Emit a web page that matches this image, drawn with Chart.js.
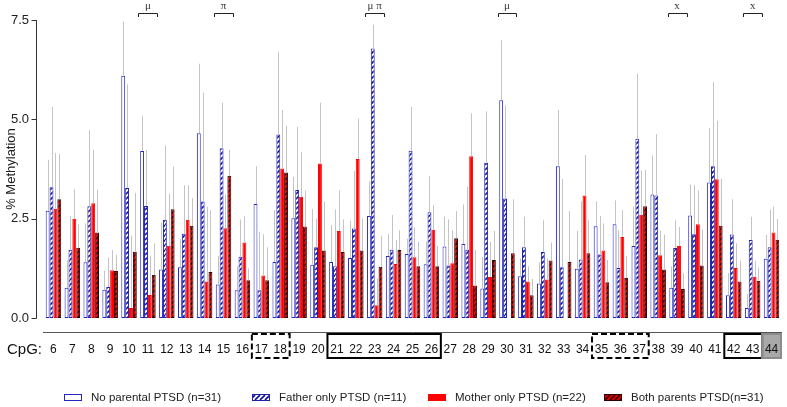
<!DOCTYPE html>
<html>
<head>
<meta charset="utf-8">
<script src="https://cdn.jsdelivr.net/npm/chart.js@4.4.1/dist/chart.umd.min.js"></script>
<style>
  html, body { margin: 0; padding: 0; background: #fff; }
  canvas { display: block; }
</style>
</head>
<body>
<canvas id="chart" width="787" height="407"></canvas>
<script>
// ---- data ----
const cpg = ['6','7','8','9','10','11','12','13','14','15','16','17','18','19','20','21','22','23','24','25',
             '26','27','28','29','30','31','32','33','34','35','36','37','38','39','40','41','42','43','44'];

const noParental  = [2.70,0.76,1.40,0.71,6.10,4.20,1.22,1.28,4.65,0.84,0.70,2.87,1.41,2.51,1.34,1.41,1.51,2.57,1.56,1.61,
                     1.35,1.80,1.86,0.74,5.48,1.05,0.87,3.82,1.24,2.31,2.36,1.81,3.11,0.76,2.58,3.41,0.57,0.25,1.49];
const fatherOnly  = [3.29,1.72,2.81,0.78,3.27,2.82,2.47,2.12,2.93,4.27,1.54,0.70,4.62,3.22,1.78,1.30,2.25,6.78,1.72,4.21,
                     2.66,1.32,1.72,3.91,3.01,1.78,1.66,1.28,1.47,1.60,1.26,4.51,3.08,1.76,2.11,3.82,2.10,1.96,1.78];
const motherOnly  = [2.75,2.50,2.89,1.20,0.25,0.58,1.82,2.47,0.92,2.26,1.90,1.07,3.76,3.05,3.89,2.19,4.00,0.32,1.36,1.53,
                     2.22,1.38,4.07,1.03,null,0.92,0.97,null,3.08,1.70,2.04,2.60,1.58,1.81,2.36,3.49,1.26,1.04,2.15];
const bothParents = [2.99,1.77,2.15,1.18,1.67,1.09,2.74,2.32,1.16,3.58,0.95,0.95,3.66,2.30,1.70,1.66,1.70,1.29,1.71,1.30,
                     1.30,2.01,0.82,1.46,1.63,0.57,1.45,1.41,1.63,0.90,1.01,2.81,1.22,0.73,1.32,2.32,0.92,0.94,1.97];

// upper end of each error bar
const noParentalHi  = [3.98,1.45,2.38,1.19,7.46,5.09,2.40,2.00,6.40,1.56,1.30,3.82,2.71,3.55,2.74,2.34,2.45,3.44,2.11,2.00,
                       1.92,2.55,2.86,1.53,6.99,1.50,1.40,5.24,2.19,2.94,2.96,2.81,4.09,1.30,3.36,4.78,1.13,0.61,2.09];
const fatherOnlyHi  = [5.31,2.56,4.73,1.53,5.88,4.23,4.34,3.34,5.67,5.42,2.48,2.17,6.70,4.81,2.50,2.73,3.70,7.38,2.59,5.31,
                       3.57,2.48,3.30,5.20,5.35,2.55,2.46,3.50,2.94,2.57,2.21,6.15,4.63,2.46,3.34,5.94,2.99,2.55,2.73];
const motherOnlyHi  = [4.15,3.24,4.23,1.71,2.07,1.57,3.13,3.34,2.80,3.10,2.56,2.11,5.23,4.17,5.42,3.21,5.02,1.00,1.96,2.28,
                       2.84,2.21,5.15,1.92,null,1.30,1.50,null,4.10,2.38,2.71,3.71,2.20,2.29,3.21,4.96,1.88,1.44,2.80];
const bothParentsHi = [4.13,2.36,3.23,1.59,3.15,1.88,3.81,3.02,2.71,4.23,1.25,1.78,4.84,3.21,2.94,2.48,2.50,2.06,2.21,1.92,
                       1.81,2.69,1.71,2.19,2.99,0.98,1.90,2.69,2.46,1.46,1.56,3.73,2.10,1.13,2.23,3.50,1.44,1.27,2.49];

const yTicks = [0, 2.5, 5, 7.5];

// significance brackets above single CpG sites
const markCats  = ['11','15','23','30','39','43'];
const markTexts = ['\u03bc','\u03c0','\u03bc \u03c0','\u03bc','x','x'];

// boxes round CpG labels: [first, last, style]
const cpgBoxes = [['17','18','dash'],['21','26','solid'],['35','37','dash'],['42','43','solid'],['44','44','gray']];

const seriesNames = ['No parental PTSD (n=31)','Father only PTSD (n=11)','Mother only PTSD (n=22)','Both parents PTSD(n=31)'];

// ---- drawing ----
const canvas = document.getElementById('chart');
const ctx = canvas.getContext('2d');
const FONT = 'Arial, "Liberation Sans", sans-serif';

function hatch(bg, fg, lw) {
  const c = document.createElement('canvas');
  c.width = 5; c.height = 5;
  const g = c.getContext('2d');
  g.fillStyle = bg; g.fillRect(0, 0, 5, 5);
  g.strokeStyle = fg; g.lineWidth = lw;
  for (const o of [-5, 0, 5]) { g.beginPath(); g.moveTo(o, 5); g.lineTo(o + 5, 0); g.stroke(); }
  return ctx.createPattern(c, 'repeat');
}

const errHi = [noParentalHi, fatherOnlyHi, motherOnlyHi, bothParentsHi];

const errorBars = {
  id: 'errorBars',
  afterDatasetsDraw(chart) {
    const y = chart.scales.y;
    const c = chart.ctx;
    c.save();
    c.strokeStyle = '#c4c4c4';
    c.lineWidth = 1;
    chart.data.datasets.forEach((ds, i) => {
      chart.getDatasetMeta(i).data.forEach((bar, j) => {
        const hi = errHi[i][j];
        if (hi == null || ds.data[j] == null) return;
        const xx = Math.round(bar.x) + 0.5;
        c.beginPath();
        c.moveTo(xx, bar.y);
        c.lineTo(xx, y.getPixelForValue(hi));
        c.stroke();
      });
    });
    c.restore();
  }
};

const decorations = {
  id: 'decorations',
  beforeDraw(chart) {
    const x = chart.scales.x, c = chart.ctx;
    const slot = x.getPixelForValue(1) - x.getPixelForValue(0);
    cpgBoxes.filter(b => b[2] === 'gray').forEach(b => {
      const l = x.getPixelForValue(cpg.indexOf(b[0])) - slot / 2;
      const r = x.getPixelForValue(cpg.indexOf(b[1])) + slot / 2;
      c.fillStyle = '#a9a9a9';
      c.fillRect(l, 334, r - l, 24);
    });
  },
  afterDraw(chart) {
    const { x, y } = chart.scales;
    const c = chart.ctx;
    const area = chart.chartArea;
    const slot = x.getPixelForValue(1) - x.getPixelForValue(0);
    c.save();

    // y axis, set a little apart from the bars
    const ax = Math.round(area.left) - 8 + 0.5;
    c.strokeStyle = '#333';
    c.lineWidth = 1;
    c.beginPath();
    c.moveTo(ax, y.getPixelForValue(yTicks[0]) + 0.5);
    c.lineTo(ax, y.getPixelForValue(yTicks[yTicks.length - 1]));
    yTicks.forEach(t => {
      const py = Math.round(y.getPixelForValue(t)) + 0.5;
      c.moveTo(ax - 5, py); c.lineTo(ax, py);
    });
    c.stroke();

    // CpG row rule and label
    c.strokeStyle = '#555';
    c.beginPath();
    c.moveTo(area.left - 1, 332.5); c.lineTo(area.right + 1, 332.5);
    c.stroke();
    c.fillStyle = '#111';
    c.font = '15px ' + FONT;
    c.textBaseline = 'middle';
    c.textAlign = 'left';
    c.fillText('CpG:', 7, 350);

    // boxes round label groups
    cpgBoxes.forEach(b => {
      const l = x.getPixelForValue(cpg.indexOf(b[0])) - slot / 2;
      const r = x.getPixelForValue(cpg.indexOf(b[1])) + slot / 2;
      c.lineWidth = 2;
      if (b[2] === 'gray') { c.strokeStyle = '#8c8c8c'; c.setLineDash([]); }
      else { c.strokeStyle = '#000'; c.setLineDash(b[2] === 'dash' ? [6, 3] : []); }
      c.strokeRect(l, 334, r - l, 24);
    });
    c.setLineDash([]);

    // significance brackets
    c.strokeStyle = '#222';
    c.lineWidth = 1;
    c.fillStyle = '#333';
    c.font = '11px "Liberation Serif", "DejaVu Serif", serif';
    c.textAlign = 'center';
    c.textBaseline = 'middle';
    markCats.forEach((cat, k) => {
      const cx = x.getPixelForValue(cpg.indexOf(cat));
      const l = Math.round(cx - slot / 2) + 0.5, r = Math.round(cx + slot / 2) + 0.5;
      c.beginPath();
      c.moveTo(l, 17); c.lineTo(l, 13.5); c.lineTo(r, 13.5); c.lineTo(r, 17);
      c.stroke();
      c.fillText(markTexts[k], cx, 6);
    });

    // legend
    const legendX = [64, 252, 428, 604];
    c.font = '11.5px ' + FONT;
    c.textAlign = 'left';
    chart.data.datasets.forEach((ds, i) => {
      const lx = legendX[i], ly = 394;
      c.fillStyle = ds.backgroundColor;
      c.fillRect(lx, ly, 18, 7);
      c.strokeStyle = ds.borderColor;
      c.lineWidth = 1;
      c.strokeRect(lx + 0.5, ly + 0.5, 17, 6);
      c.fillStyle = '#222';
      c.fillText(ds.label, lx + 27, 397.5);
    });
    c.restore();
  }
};

const barOpts = { borderWidth: 1, borderSkipped: false, categoryPercentage: 0.82, barPercentage: 1.0 };

new Chart(ctx, {
  type: 'bar',
  data: {
    labels: cpg,
    datasets: [
      { label: seriesNames[0], data: noParental,  backgroundColor: '#ffffff', borderColor: '#2424c8', ...barOpts },
      { label: seriesNames[1], data: fatherOnly,  backgroundColor: hatch('#ffffff', '#1010a0', 1.6), borderColor: '#2020b0', ...barOpts },
      { label: seriesNames[2], data: motherOnly,  backgroundColor: '#ff0000', borderColor: '#ff0000', ...barOpts },
      { label: seriesNames[3], data: bothParents, backgroundColor: hatch('#d40000', '#2a0000', 1.5), borderColor: '#300000', ...barOpts }
    ]
  },
  options: {
    responsive: false,
    animation: false,
    layout: { padding: { top: 20, right: 6, bottom: 0, left: 0 } },
    plugins: { legend: { display: false }, tooltip: { enabled: false } },
    scales: {
      x: {
        grid: { display: false, drawTicks: true, tickLength: 24 },
        border: { display: false },
        ticks: { autoSkip: false, maxRotation: 0, padding: 0, color: '#111', font: { family: FONT, size: 12 } },
        afterFit(s) { s.height = 89; }
      },
      y: {
        min: 0, max: 7.5,
        grid: { display: false, drawTicks: true, tickLength: 10 },
        border: { display: false },
        afterBuildTicks(s) { s.ticks = yTicks.map(v => ({ value: v })); },
        ticks: { padding: 5, color: '#222', font: { family: FONT, size: 13 }, callback: v => v.toFixed(1) },
        title: { display: true, text: '% Methylation', color: '#222', font: { family: FONT, size: 13 }, padding: { top: 4, bottom: 0 } },
        afterFit(s) { s.width = 44; }
      }
    }
  },
  plugins: [errorBars, decorations]
});
</script>
</body>
</html>
